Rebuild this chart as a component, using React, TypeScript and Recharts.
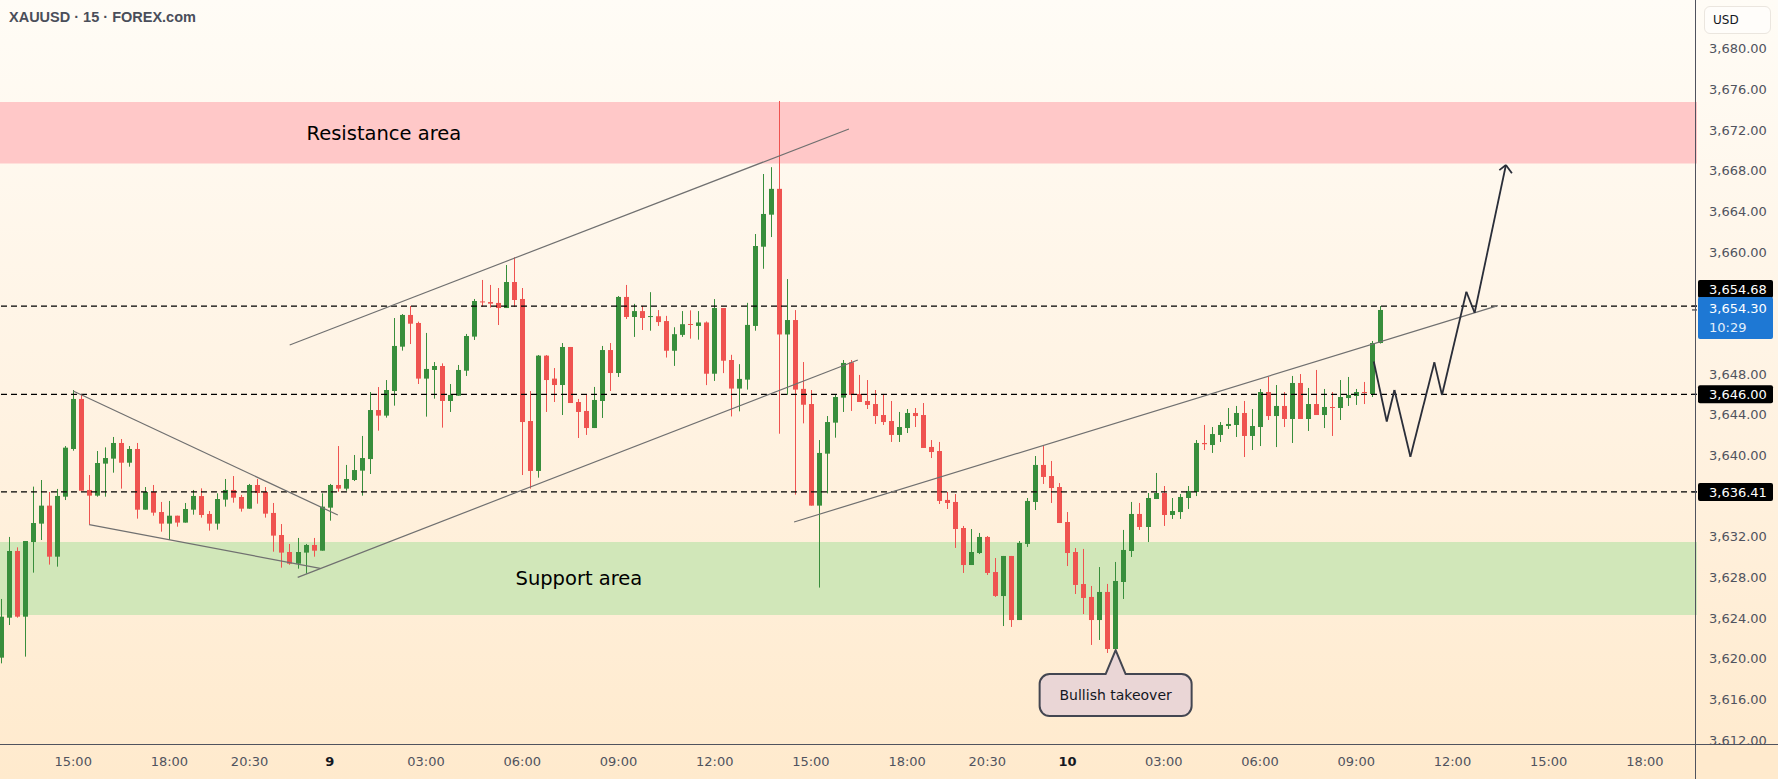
import React from 'react';
import { ComposedChart, Bar, XAxis, YAxis, ReferenceLine, ReferenceArea, ReferenceDot } from 'recharts';

// bar index 0 = 15:00 on the 8th, 15 min bars, session break skipped
const FIRST_BAR = -9;
const LAST_SLOT = 202;

const opens = [
  3620.11, 3624.04, 3630.60, 3624.14, 3631.48, 3633.29, 3635.06, 3630.04, 3635.94, 3640.63,
  3645.55, 3636.60, 3636.04, 3639.19, 3639.68, 3641.22, 3639.28, 3640.63, 3634.66, 3636.40,
  3634.43, 3633.29, 3634.07, 3633.39, 3634.66, 3636.00, 3634.24, 3633.29, 3635.65, 3636.60,
  3635.91, 3634.76, 3637.09, 3636.40, 3634.34, 3632.17, 3630.50, 3629.35, 3630.44, 3631.19,
  3630.63, 3634.86, 3637.09, 3636.73, 3637.58, 3638.50, 3639.64, 3644.46, 3643.91, 3646.33,
  3650.69, 3653.81, 3653.02, 3647.55, 3648.40, 3648.79, 3645.35, 3645.87, 3648.33, 3651.68,
  3655.14, 3655.08, 3654.99, 3654.49, 3657.05, 3655.38, 3643.38, 3638.47, 3649.81, 3647.55,
  3646.92, 3650.66, 3645.25, 3644.37, 3642.69, 3645.35, 3650.36, 3648.10, 3655.58, 3653.61,
  3654.19, 3653.65, 3653.68, 3653.21, 3650.29, 3651.85, 3652.92, 3652.73, 3653.07, 3648.03,
  3654.49, 3649.38, 3646.57, 3647.45, 3652.73, 3660.52, 3663.67, 3666.21, 3651.89, 3653.31,
  3646.54, 3645.05, 3635.06, 3640.17, 3643.22, 3645.68, 3649.15, 3646.04, 3645.35, 3645.05,
  3643.97, 3643.38, 3642.01, 3642.69, 3644.17, 3643.97, 3640.83, 3640.43, 3635.62, 3635.42,
  3632.86, 3629.22, 3630.40, 3631.98, 3628.53, 3626.17, 3630.11, 3623.81, 3631.29, 3635.42,
  3639.06, 3637.97, 3636.89, 3633.45, 3630.50, 3627.35, 3626.08, 3623.81, 3626.57, 3620.96,
  3627.55, 3630.60, 3634.24, 3632.96, 3635.71, 3636.30, 3634.14, 3634.43, 3635.81, 3636.40,
  3641.22, 3641.02, 3642.01, 3642.89, 3642.99, 3644.17, 3641.91, 3642.79, 3646.23, 3643.87,
  3644.86, 3643.58, 3647.12, 3643.58, 3645.05, 3643.97, 3644.76, 3644.66, 3645.64, 3645.84,
  3646.23, 3646.04, 3651.05,
];
const highs = [
  3625.88, 3631.98, 3630.96, 3631.58, 3636.93, 3637.58, 3636.40, 3636.70, 3640.92, 3646.43,
  3645.94, 3638.07, 3640.43, 3640.79, 3641.81, 3641.61, 3640.92, 3641.22, 3636.89, 3637.09,
  3635.42, 3635.52, 3634.07, 3635.32, 3636.60, 3636.76, 3634.53, 3636.27, 3637.68, 3637.97,
  3636.11, 3637.19, 3637.68, 3636.89, 3635.32, 3633.25, 3631.29, 3631.88, 3631.29, 3631.88,
  3636.27, 3637.19, 3640.92, 3639.06, 3640.04, 3641.91, 3646.23, 3646.72, 3647.41, 3653.51,
  3653.90, 3654.69, 3653.15, 3652.04, 3649.18, 3649.05, 3647.02, 3648.89, 3651.94, 3655.38,
  3657.25, 3656.76, 3656.46, 3658.72, 3659.48, 3656.46, 3646.33, 3649.87, 3649.87, 3648.59,
  3651.05, 3650.66, 3645.55, 3646.04, 3646.73, 3650.76, 3651.05, 3655.67, 3656.76, 3654.90,
  3654.70, 3656.05, 3654.29, 3653.72, 3652.60, 3654.19, 3654.26, 3654.19, 3653.17, 3655.37,
  3654.49, 3649.89, 3648.97, 3655.00, 3661.77, 3667.67, 3668.34, 3674.85, 3657.34, 3654.29,
  3649.18, 3646.43, 3641.51, 3643.87, 3645.94, 3649.38, 3649.38, 3647.91, 3647.41, 3646.43,
  3646.04, 3645.35, 3644.27, 3644.56, 3644.66, 3645.15, 3641.51, 3641.32, 3636.40, 3636.20,
  3633.06, 3632.76, 3632.37, 3632.07, 3629.91, 3630.11, 3630.11, 3631.58, 3635.81, 3639.94,
  3640.92, 3639.45, 3637.28, 3634.43, 3630.89, 3630.80, 3627.16, 3629.02, 3627.36, 3629.52,
  3632.67, 3635.42, 3635.32, 3636.30, 3638.27, 3636.99, 3635.81, 3636.20, 3636.99, 3641.51,
  3642.99, 3642.79, 3643.28, 3644.66, 3644.86, 3645.35, 3644.56, 3646.53, 3647.71, 3646.92,
  3646.23, 3647.81, 3648.00, 3646.63, 3648.40, 3646.53, 3646.23, 3647.41, 3647.71, 3646.53,
  3647.22, 3651.25, 3654.68,
];
const lows = [
  3619.55, 3623.32, 3624.04, 3620.21, 3628.47, 3631.68, 3629.26, 3629.06, 3635.61, 3640.46,
  3636.53, 3633.19, 3635.94, 3635.94, 3638.30, 3636.73, 3638.89, 3633.78, 3634.66, 3634.07,
  3632.50, 3631.68, 3632.99, 3633.39, 3634.17, 3633.88, 3632.60, 3632.70, 3634.96, 3635.35,
  3634.47, 3634.76, 3635.25, 3633.88, 3630.53, 3628.96, 3629.25, 3628.86, 3628.37, 3630.04,
  3630.63, 3633.58, 3636.43, 3636.53, 3637.48, 3636.04, 3638.17, 3642.43, 3643.71, 3644.89,
  3650.30, 3650.95, 3647.02, 3643.81, 3645.58, 3642.73, 3644.27, 3645.87, 3647.81, 3651.35,
  3654.62, 3654.53, 3652.82, 3654.49, 3654.59, 3638.07, 3636.73, 3637.81, 3644.27, 3645.25,
  3643.97, 3645.15, 3641.71, 3642.01, 3642.69, 3643.68, 3646.33, 3647.71, 3653.41, 3651.65,
  3652.33, 3652.26, 3652.73, 3649.62, 3648.80, 3651.65, 3651.48, 3651.38, 3646.91, 3647.32,
  3648.09, 3643.83, 3644.33, 3646.47, 3652.26, 3658.35, 3661.47, 3642.13, 3645.96, 3636.14,
  3643.15, 3635.06, 3627.00, 3636.27, 3641.74, 3644.27, 3644.37, 3645.25, 3644.56, 3643.09,
  3642.99, 3641.32, 3641.32, 3642.20, 3642.79, 3640.73, 3639.74, 3635.22, 3634.73, 3630.90,
  3628.44, 3629.22, 3630.30, 3628.24, 3626.08, 3623.22, 3623.13, 3623.81, 3631.00, 3634.63,
  3637.19, 3635.32, 3633.35, 3629.12, 3626.37, 3624.40, 3621.36, 3621.85, 3620.57, 3620.96,
  3625.88, 3630.01, 3632.67, 3631.48, 3635.71, 3633.06, 3633.75, 3633.75, 3634.73, 3636.00,
  3640.53, 3640.24, 3641.32, 3642.60, 3641.81, 3639.84, 3640.53, 3640.92, 3643.48, 3640.82,
  3642.79, 3641.22, 3643.58, 3642.40, 3643.97, 3642.69, 3641.91, 3643.48, 3644.86, 3644.96,
  3645.05, 3645.74, 3651.00,
];
const closes = [
  3624.14, 3630.60, 3624.14, 3631.58, 3633.35, 3635.06, 3630.04, 3636.01, 3640.76, 3645.55,
  3636.53, 3636.04, 3639.25, 3639.74, 3641.22, 3639.28, 3640.63, 3634.66, 3636.40, 3634.37,
  3633.29, 3634.07, 3633.39, 3634.73, 3636.01, 3634.14, 3633.29, 3635.71, 3636.60, 3635.84,
  3634.76, 3637.09, 3636.30, 3634.27, 3632.11, 3630.44, 3629.35, 3630.50, 3631.19, 3630.63,
  3634.96, 3637.09, 3636.73, 3637.68, 3638.56, 3639.74, 3644.46, 3643.91, 3646.43, 3650.76,
  3653.81, 3652.95, 3647.55, 3648.50, 3648.79, 3645.35, 3645.94, 3648.40, 3651.74, 3655.18,
  3655.10, 3654.92, 3654.49, 3657.05, 3655.28, 3643.28, 3638.47, 3649.81, 3647.41, 3646.92,
  3650.66, 3645.15, 3644.27, 3642.69, 3645.45, 3650.36, 3648.10, 3655.58, 3653.61, 3654.19,
  3653.51, 3653.70, 3653.11, 3650.29, 3651.92, 3652.90, 3652.88, 3653.07, 3648.03, 3654.49,
  3649.31, 3646.57, 3647.52, 3652.83, 3660.59, 3663.74, 3666.21, 3651.89, 3653.31, 3646.47,
  3644.98, 3635.06, 3640.24, 3643.28, 3645.74, 3649.09, 3645.94, 3645.25, 3644.96, 3643.87,
  3643.28, 3642.01, 3642.79, 3644.17, 3643.87, 3640.73, 3640.33, 3635.52, 3635.32, 3632.76,
  3629.22, 3630.50, 3631.98, 3628.44, 3626.18, 3630.11, 3623.81, 3631.39, 3635.52, 3639.06,
  3637.88, 3636.79, 3633.35, 3630.40, 3627.26, 3625.98, 3623.81, 3626.57, 3620.96, 3627.65,
  3630.70, 3634.24, 3632.96, 3635.81, 3636.30, 3634.14, 3634.53, 3635.91, 3636.50, 3641.22,
  3641.10, 3642.10, 3642.99, 3643.09, 3644.17, 3641.91, 3642.89, 3646.23, 3643.87, 3644.86,
  3643.58, 3647.12, 3643.58, 3645.05, 3643.97, 3644.76, 3644.66, 3645.74, 3645.94, 3646.23,
  3646.15, 3651.05, 3654.30,
];

const timeTickIdx = [0, 12, 22, 32, 44, 56, 68, 80, 92, 104, 114, 124, 136, 148, 160, 172, 184, 196];
const timeTickLabels = ['15:00', '18:00', '20:30', '9', '03:00', '06:00', '09:00', '12:00', '15:00', '18:00', '20:30', '10', '03:00', '06:00', '09:00', '12:00', '15:00', '18:00'];
const dayLabels = ['9', '10'];

// 3,656 / 3,652 / 3,636 are hidden behind the price tags in the original
const priceTicks = [3612, 3616, 3620, 3624, 3628, 3632, 3640, 3644, 3648, 3660, 3664, 3668, 3672, 3676, 3680];
const priceDomain = [3611.62, 3684.78];

const levelPrices = [3654.68, 3646.0, 3636.41];
const lastPrice = 3654.3;
const countdown = '10:29';

const resistanceZone = [3668.7, 3674.75];
const supportZone = [3624.31, 3631.48];

// drawn trend lines: [barFrom, priceFrom, barTo, priceTo]
const trendLines = [
  [0, 3646.33, 33, 3634.14],
  [2, 3633.19, 30.8, 3628.89],
  [28, 3628.01, 97.85, 3649.38],
  [27, 3650.86, 96.74, 3672.1],
  [89.9, 3633.45, 177.67, 3654.72],
];
const pathBars = [162.19, 163.81, 164.77, 166.76, 169.75, 170.7, 173.74, 174.77, 178.67];
const pathPrices = [3649.23, 3643.33, 3646.43, 3639.87, 3649.15, 3645.94, 3656.09, 3654.03, 3668.55];
const arrowBars = [177.85, 179.42];
const arrowPrices = [3668.05, 3667.74];

const calloutBar = 130;
const calloutText = 'Bullish takeover';

const UP = '#388e3c';
const DOWN = '#ef5350';
const FONT = 'DejaVu Sans, sans-serif';

const data: any[] = [];
for (let i = FIRST_BAR; i <= LAST_SLOT; i++) {
  const k = i - FIRST_BAR;
  if (k < opens.length) {
    data.push({ i, range: [lows[k], highs[k]], o: opens[k], h: highs[k], l: lows[k], c: closes[k] });
  } else {
    data.push({ i, range: null });
  }
}

const fmt = (v: number) =>
  v.toLocaleString('en-US', { minimumFractionDigits: 2, maximumFractionDigits: 2 });

const Candle = (props: any) => {
  const { x, y, width, height, payload } = props;
  if (!payload || payload.o == null) return null;
  const { o, h, l, c } = payload;
  const color = c >= o ? UP : DOWN;
  const top = Math.min(y, y + height);
  const span = Math.abs(height);
  const k = h > l ? span / (h - l) : 0;
  const bTop = top + (h - Math.max(o, c)) * k;
  const bBot = top + (h - Math.min(o, c)) * k;
  const cx = Math.round(x + width / 2) + 0.5;
  return (
    <g>
      <line x1={cx} x2={cx} y1={top} y2={top + span} stroke={color} strokeWidth={1} />
      <rect x={cx - 2.5} y={bTop} width={5} height={Math.max(1, bBot - bTop)} fill={color} />
    </g>
  );
};

const TimeTick = ({ x, y, payload }: any) => {
  const text = timeTickLabels[timeTickIdx.indexOf(payload.value)] ?? '';
  const day = dayLabels.includes(text);
  return (
    <text x={x} y={y} dy={22} textAnchor="middle" fontFamily={FONT} fontSize={13}
      fontWeight={day ? 700 : 400} fill={day ? '#131722' : '#50535e'}>
      {text}
    </text>
  );
};

const priceTag = (text: string, bg: string, shift: number, sub?: string) => (props: any) => {
  const vb = props.viewBox;
  if (!vb) return null;
  const right = vb.x + vb.width;
  const ly = vb.y;
  const top = sub ? ly - 13 : ly - 9 + shift;
  const h = sub ? 42 : 18;
  return (
    <g>
      <line x1={right - 5} x2={right} y1={ly} y2={ly} stroke="#131722" strokeWidth={1} />
      <rect x={right + 1} y={top} width={75} height={h} rx={2} fill={bg} />
      <text x={right + 12} y={sub ? ly - 2 : top + 9} dy="0.36em" fill="#fff" fontFamily={FONT} fontSize={13}>
        {text}
      </text>
      {sub && (
        <text x={right + 12} y={ly + 17} dy="0.36em" fill="#e3eefa" fontFamily={FONT} fontSize={13}>
          {sub}
        </text>
      )}
    </g>
  );
};

const Callout = (props: any) => {
  const { cx, cy } = props;
  if (cx == null || cy == null) return null;
  const tip = cy + 1;
  const T = cy + 25;
  const B = cy + 67;
  const L = cx - 76;
  const R = cx + 76;
  const r = 10;
  const d = `M${L + r},${T} L${cx - 10},${T} L${cx},${tip} L${cx + 10},${T} L${R - r},${T} A${r},${r} 0 0 1 ${R},${T + r} L${R},${B - r} A${r},${r} 0 0 1 ${R - r},${B} L${L + r},${B} A${r},${r} 0 0 1 ${L},${B - r} L${L},${T + r} A${r},${r} 0 0 1 ${L + r},${T} Z`;
  return (
    <g>
      <path d={d} fill="#ead6d6" stroke="#434651" strokeWidth={2} strokeLinejoin="round" />
      <text x={cx} y={(T + B) / 2} dy="0.36em" textAnchor="middle" fontFamily={FONT} fontSize={14} fill="#131722">
        {calloutText}
      </text>
    </g>
  );
};

export default function App() {
  const pathSegments = pathBars.slice(1).map((b, n) => [pathBars[n], pathPrices[n], b, pathPrices[n + 1]]);
  const tip = pathBars.length - 1;
  const arrowSegments = arrowBars.map((b, n) => [b, arrowPrices[n], pathBars[tip], pathPrices[tip]]);

  return (
    <div style={{ position: 'absolute', left: 0, top: 0, width: 1778, height: 779, overflow: 'hidden',
      background: 'linear-gradient(180deg, #fffcf6 0%, #fff3e3 50%, #ffeacd 100%)' }}>
      <div style={{ position: 'absolute', left: -3.5, top: 0 }}>
        <ComposedChart width={1783} height={779} data={data} margin={{ top: 0, right: 0, bottom: 0, left: 0 }}>
          <XAxis dataKey="i" type="category" ticks={timeTickIdx} interval={0} height={35}
            axisLine={false} tickLine={false} tickSize={0} tickMargin={0} tick={<TimeTick />} />
          <XAxis xAxisId="n" dataKey="i" type="number" domain={[FIRST_BAR - 0.5, LAST_SLOT + 0.5]} hide allowDataOverflow />
          <YAxis orientation="right" width={83} domain={priceDomain} ticks={priceTicks} allowDataOverflow
            axisLine={false} tickLine={false} tickSize={0} tickMargin={12} tickFormatter={fmt}
            tick={{ fill: '#50535e', fontSize: 13, fontFamily: FONT }} />

          <ReferenceArea y1={resistanceZone[0]} y2={resistanceZone[1]} fill="#ffc8c8" fillOpacity={1} stroke="none"
            label={{ value: 'Resistance area', position: 'insideLeft', offset: 309.5, fill: '#000', fontSize: 19.5, fontFamily: FONT }} />
          <ReferenceArea y1={supportZone[0]} y2={supportZone[1]} fill="#d1e7b9" fillOpacity={1} stroke="none"
            label={{ value: 'Support area', position: 'insideLeft', offset: 518.5, fill: '#000', fontSize: 19.5, fontFamily: FONT }} />

          {levelPrices.map((p, n) => (
            <ReferenceLine key={'lvl' + n} y={p} stroke="#000" strokeWidth={1.2} strokeDasharray="6 4"
              label={{ content: priceTag(fmt(p), '#000', n === 0 ? -17 : 0) }} />
          ))}
          <ReferenceLine y={lastPrice} stroke="none" label={{ content: priceTag(fmt(lastPrice), '#1e78d4', 0, countdown) }} />

          {trendLines.map((t, n) => (
            <ReferenceLine key={'tl' + n} xAxisId="n" segment={[{ x: t[0], y: t[1] }, { x: t[2], y: t[3] }]}
              stroke="#707070" strokeWidth={1.2} />
          ))}

          <Bar dataKey="range" shape={<Candle />} isAnimationActive={false} />

          {pathSegments.map((s, n) => (
            <ReferenceLine key={'pj' + n} xAxisId="n" segment={[{ x: s[0], y: s[1] }, { x: s[2], y: s[3] }]}
              stroke="#2a2e39" strokeWidth={1.8} />
          ))}
          {arrowSegments.map((s, n) => (
            <ReferenceLine key={'ar' + n} xAxisId="n" segment={[{ x: s[0], y: s[1] }, { x: s[2], y: s[3] }]}
              stroke="#2a2e39" strokeWidth={1.8} />
          ))}

          <ReferenceDot xAxisId="n" x={calloutBar} y={lows[calloutBar - FIRST_BAR]} r={0}
            shape={(p: any) => <Callout {...p} />} />
        </ComposedChart>
      </div>

      {/* frame lines and header overlays */}
      <div style={{ position: 'absolute', left: 0, top: 744, width: 1778, height: 1, background: '#50535e' }} />
      <div style={{ position: 'absolute', left: 1696, top: 745, width: 82, height: 34, background: '#ffeacd' }} />
      <div style={{ position: 'absolute', left: 1695, top: 0, width: 1, height: 779, background: '#50535e' }} />
      <div style={{ position: 'absolute', left: 9, top: 9, fontFamily: 'Liberation Sans, Arial, sans-serif',
        fontWeight: 700, fontSize: 14.5, color: '#4a4e5a', whiteSpace: 'nowrap' }}>
        XAUUSD · 15 · FOREX.com
      </div>
      <div style={{ position: 'absolute', left: 1704, top: 6, width: 67, height: 28, boxSizing: 'border-box',
        background: '#fffdfa', border: '1px solid #ebe6df', borderRadius: 6, fontFamily: FONT, fontSize: 12,
        color: '#131722', lineHeight: '26px', paddingLeft: 8 }}>
        USD
      </div>
    </div>
  );
}
